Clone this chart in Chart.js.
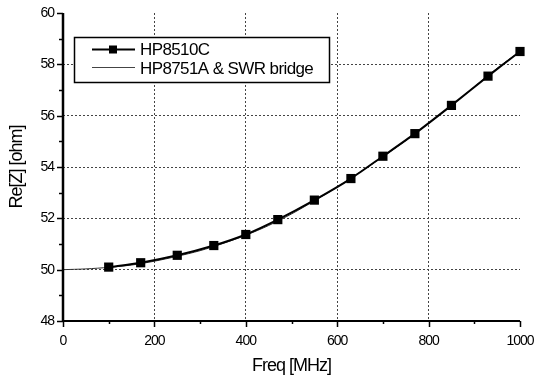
<!DOCTYPE html>
<html>
<head>
<meta charset="utf-8">
<script src="https://cdn.jsdelivr.net/npm/chart.js@4.4.0/dist/chart.umd.min.js"></script>
<style>
  html, body { margin: 0; padding: 0; background: #fff; }
  #wrap { width: 536px; height: 378px; }
</style>
</head>
<body>
<div id="wrap"><canvas id="reChart" width="536" height="378"></canvas></div>
<script>
// HP8510C measured points
var freqHP8510 = [100, 170, 250, 330, 400, 470, 550, 630, 700, 770, 850, 930, 1000];
var reHP8510 = [50.10, 50.27, 50.56, 50.94, 51.37, 51.95, 52.71, 53.55, 54.42, 55.30, 56.40, 57.54, 58.50];

// HP8751A & SWR bridge trace
var freqHP8751 = [0, 50, 100, 150, 200, 250, 300, 350, 400, 450, 500, 550, 600, 650, 700, 750, 800, 850, 900, 950, 1000];
var reHP8751 = [50.00, 50.03, 50.09, 50.18, 50.33, 50.52, 50.74, 51.02, 51.34, 51.72, 52.17, 52.68, 53.22, 53.80, 54.40, 55.03, 55.70, 56.40, 57.12, 57.85, 58.50];

var legendLabels = ['HP8510C', 'HP8751A & SWR bridge'];
var xTitle = 'Freq [MHz]';
var yTitle = 'Re[Z] [ohm]';

function toPoints(xs, ys) {
  return xs.map(function (x, i) { return { x: x, y: ys[i] }; });
}

// axis lines and tick marks (major + minor), drawn outward
var axesPlugin = {
  id: 'axesPlugin',
  beforeDraw: function (chart) {
    chart.ctx.letterSpacing = '-1px';
  },
  afterDatasetsDraw: function (chart) {
    var ctx = chart.ctx;
    var xs = chart.scales.x, ys = chart.scales.y;
    var a = chart.chartArea;
    ctx.save();
    ctx.strokeStyle = '#000';
    ctx.lineWidth = 1.5;
    var v, p;
    for (v = 48; v <= 60; v += 1) {
      p = Math.round(ys.getPixelForValue(v)) + 0.5;
      ctx.beginPath();
      ctx.moveTo(a.left, p);
      ctx.lineTo(a.left - (v % 2 === 0 ? 6 : 4), p);
      ctx.stroke();
    }
    for (v = 0; v <= 1000; v += 100) {
      p = Math.round(xs.getPixelForValue(v)) + 0.5;
      ctx.beginPath();
      ctx.moveTo(p, a.bottom);
      ctx.lineTo(p, a.bottom + (v % 200 === 0 ? 6 : 3));
      ctx.stroke();
    }
    ctx.lineWidth = 2.5;
    ctx.beginPath();
    ctx.moveTo(a.left, a.top);
    ctx.lineTo(a.left, a.bottom);
    ctx.stroke();
    ctx.lineWidth = 2;
    ctx.beginPath();
    ctx.moveTo(a.left - 1, a.bottom);
    ctx.lineTo(xs.getPixelForValue(1000), a.bottom);
    ctx.stroke();
    ctx.restore();
  }
};

// boxed legend in the upper left of the plot
var legendBox = {
  id: 'legendBox',
  afterDraw: function (chart) {
    var ctx = chart.ctx;
    ctx.save();
    ctx.fillStyle = '#fff';
    ctx.fillRect(74, 37, 255, 45);
    ctx.strokeStyle = '#000';
    ctx.lineWidth = 1.5;
    ctx.strokeRect(74.5, 37.5, 255, 45);

    ctx.lineWidth = 2;
    ctx.beginPath();
    ctx.moveTo(92, 49.5);
    ctx.lineTo(135, 49.5);
    ctx.stroke();
    ctx.fillStyle = '#000';
    ctx.fillRect(109, 45.5, 8, 8);

    ctx.lineWidth = 1;
    ctx.strokeStyle = '#444';
    ctx.beginPath();
    ctx.moveTo(92, 67.5);
    ctx.lineTo(135, 67.5);
    ctx.stroke();

    ctx.fillStyle = '#000';
    ctx.font = '17px "Liberation Sans", Arial, sans-serif';
    ctx.letterSpacing = '-0.6px';
    ctx.textBaseline = 'middle';
    ctx.textAlign = 'left';
    ctx.fillText(legendLabels[0], 140, 50);
    ctx.fillText(legendLabels[1], 140, 69);
    ctx.restore();
  }
};

var gridColor = function (edge) {
  return function (c) {
    return (c.tick && c.tick.value === edge) ? 'rgba(0,0,0,0)' : '#444';
  };
};

new Chart(document.getElementById('reChart'), {
  type: 'line',
  data: {
    datasets: [{
      label: legendLabels[0],
      data: toPoints(freqHP8510, reHP8510),
      borderColor: '#000',
      backgroundColor: '#000',
      borderWidth: 2,
      pointStyle: 'rect',
      pointRadius: 6.5,
      pointBorderWidth: 0,
      tension: 0.25,
      clip: false
    }, {
      label: legendLabels[1],
      data: toPoints(freqHP8751, reHP8751),
      borderColor: '#333',
      borderWidth: 1,
      pointRadius: 0,
      tension: 0.3,
      clip: false
    }]
  },
  options: {
    responsive: false,
    devicePixelRatio: 1,
    animation: false,
    layout: { padding: { top: 13, right: 0, left: 0, bottom: 0 } },
    plugins: { legend: { display: false }, tooltip: { enabled: false } },
    scales: {
      x: {
        type: 'linear',
        min: 0, max: 1000,
        ticks: {
          stepSize: 200,
          padding: 12,
          color: '#000',
          font: { family: '"Liberation Sans", Arial, sans-serif', size: 14 },
          maxRotation: 0,
          callback: function (v) { return String(v); }
        },
        grid: { color: gridColor(1000), lineWidth: 1, drawTicks: false },
        border: { display: false, dash: [2, 2] },
        title: {
          display: true, text: xTitle, color: '#000',
          font: { family: '"Liberation Sans", Arial, sans-serif', size: 18 },
          padding: { top: 0, bottom: 1 }
        },
        afterFit: function (s) { s.height = 57; s.paddingRight = 16; s.paddingLeft = 0; }
      },
      y: {
        min: 48, max: 60,
        ticks: {
          stepSize: 2,
          padding: 9,
          color: '#000',
          font: { family: '"Liberation Sans", Arial, sans-serif', size: 14 }
        },
        grid: { color: gridColor(60), lineWidth: 1, drawTicks: false },
        border: { display: false, dash: [2, 2] },
        title: {
          display: true, text: yTitle, color: '#000',
          font: { family: '"Liberation Sans", Arial, sans-serif', size: 18 },
          padding: { top: 6, bottom: 0 }
        },
        afterFit: function (s) { s.width = 63; s.paddingTop = 0; s.paddingBottom = 0; }
      }
    }
  },
  plugins: [axesPlugin, legendBox]
});
</script>
</body>
</html>
